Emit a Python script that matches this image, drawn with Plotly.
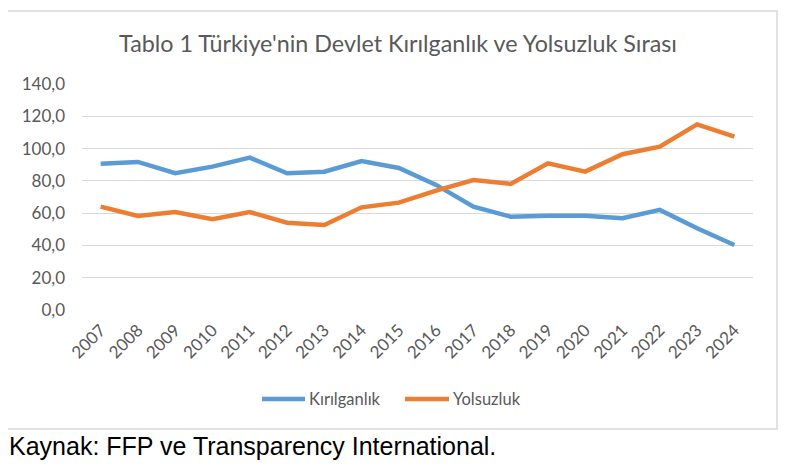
import plotly.graph_objects as go

years = [str(y) for y in range(2007, 2025)]
kirilganlik = [90.6, 91.7, 84.7, 88.8, 94.4, 84.7, 85.7, 92.3, 88.0, 77.5,
               64.0, 57.8, 58.4, 58.4, 56.8, 62.0, 50.6, 40.3]
yolsuzluk = [64.0, 58.2, 60.7, 56.2, 60.7, 54.1, 52.7, 63.6, 66.5, 74.0,
             80.5, 78.1, 90.9, 85.7, 96.5, 101.2, 115.0, 107.4]

title = "Tablo 1 Türkiye'nin Devlet Kırılganlık ve Yolsuzluk Sırası"
source = "Kaynak: FFP ve Transparency International."

grey = '#595959'
blue = '#5B9BD5'
orange = '#ED7D31'

# page has an 8px body margin, so the figure is made 8px smaller
W, H, OFF = 792, 461, 8
L, T, PW, PH = 82, 84, 671, 226


def xp(px):
    return (px - L) / PW


def yp(py):
    return (T + PH - py) / PH


fig = go.Figure()
fig.add_trace(go.Scatter(x=years, y=kirilganlik, name='Kırılganlık', mode='lines',
                         line=dict(color=blue, width=4.5)))
fig.add_trace(go.Scatter(x=years, y=yolsuzluk, name='Yolsuzluk', mode='lines',
                         line=dict(color=orange, width=4.5)))

fig.update_layout(
    width=W, height=H,
    margin=dict(l=L - OFF, r=W - (L - OFF) - PW, t=T - OFF, b=H - (T - OFF) - PH),
    paper_bgcolor='white', plot_bgcolor='white',
    separators=',.',
    font=dict(family='Lato', color=grey),
    title=dict(text=title, x=(398 - OFF) / W, xanchor='center',
               y=(H - (44 - OFF)) / H, yanchor='middle', yref='container',
               font=dict(size=23.3, color=grey, family='Lato')),
    xaxis=dict(type='category', range=[-0.5, 17.5], tickangle=-45,
               showgrid=False, showline=False, ticks='', ticklabelstandoff=6,
               tickfont=dict(size=17, color=grey)),
    yaxis=dict(range=[0, 140], dtick=20, tickformat='.1f',
               gridcolor='#D9D9D9', gridwidth=1.3, zeroline=False,
               showline=False, ticks='', ticklabelstandoff=16,
               tickfont=dict(size=17, color=grey)),
    showlegend=False,
)

# chart frame
fig.add_shape(type='rect', xref='paper', yref='paper',
              x0=xp(5), x1=xp(777), y0=yp(429), y1=yp(11),
              line=dict(color='#D9D9D9', width=1.5), layer='below')

# legend drawn by hand (longer line samples than plotly's)
for name, color, x0, x1 in [('Kırılganlık', blue, 262, 305),
                            ('Yolsuzluk', orange, 405, 449)]:
    fig.add_shape(type='line', xref='paper', yref='paper',
                  x0=xp(x0), x1=xp(x1), y0=yp(399), y1=yp(399),
                  line=dict(color=color, width=4.5))
    fig.add_annotation(text=name, xref='paper', yref='paper',
                       x=xp(x1 + 2), xanchor='left', y=yp(399), yanchor='middle',
                       showarrow=False, font=dict(size=16.5, color=grey, family='Lato'))

fig.add_annotation(text=source, xref='paper', yref='paper',
                   x=xp(OFF), xanchor='left', y=yp(446), yanchor='middle',
                   showarrow=False, borderpad=0,
                   font=dict(family='Liberation Sans', size=25, color='black'))

fig.write_html("out.html")
